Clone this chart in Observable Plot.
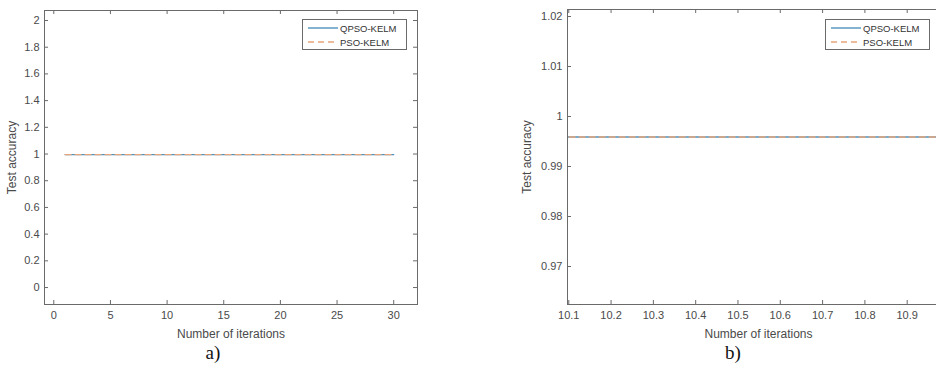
<!DOCTYPE html>
<html><head><meta charset="utf-8">
<script src="https://cdn.jsdelivr.net/npm/d3@7"></script>
<script src="https://cdn.jsdelivr.net/npm/@observablehq/plot@0.6"></script>
<style>
body{margin:0;background:#fff;}
#root{position:relative;width:936px;height:370px;overflow:hidden;background:#fff;font-family:"Liberation Sans",Arial,sans-serif;}
.panel{position:absolute;top:0;}
.caption{position:absolute;top:343px;font-family:"Liberation Serif","Times New Roman",serif;font-size:19px;color:#111;transform:translateX(-50%);line-height:19px;}
.legend{position:absolute;top:19px;border:1px solid #6a6a6a;background:#fff;width:105px;height:31px;box-sizing:border-box;font-size:9.5px;color:#333;padding-top:1px;}
.legend .row{display:flex;align-items:center;height:14px;}
.legend svg{margin-left:5px;margin-right:2px;}
</style>
</head><body>
<div id="root"></div>
<script>
// ---- data ----
const iterations = [1,2,3,4,5,6,7,8,9,10,11,12,13,14,15,16,17,18,19,20,21,22,23,24,25,26,27,28,29,30];
const qpsoAccuracy = [0.9959,0.9959,0.9959,0.9959,0.9959,0.9959,0.9959,0.9959,0.9959,0.9959,0.9959,0.9959,0.9959,0.9959,0.9959,0.9959,0.9959,0.9959,0.9959,0.9959,0.9959,0.9959,0.9959,0.9959,0.9959,0.9959,0.9959,0.9959,0.9959,0.9959];
const psoAccuracy = [0.9959,0.9959,0.9959,0.9959,0.9959,0.9959,0.9959,0.9959,0.9959,0.9959,0.9959,0.9959,0.9959,0.9959,0.9959,0.9959,0.9959,0.9959,0.9959,0.9959,0.9959,0.9959,0.9959,0.9959,0.9959,0.9959,0.9959,0.9959,0.9959,0.9959];
const seriesNames = ["QPSO-KELM", "PSO-KELM"];
const xTicksA = [0,5,10,15,20,25,30];
const yTicksA = [0,0.2,0.4,0.6,0.8,1,1.2,1.4,1.6,1.8,2];
const xTicksB = [10.1,10.2,10.3,10.4,10.5,10.6,10.7,10.8,10.9];
const yTicksB = [0.97,0.98,0.99,1,1.01,1.02];
const captions = ["a)", "b)"];
const xLabel = "Number of iterations";
const yLabel = "Test accuracy";

// ---- styles ----
const BLUE = "#4f93bd";
const ORANGE = "#e6a57c";
const AXIS = "#6a6a6a";
const TEXT = "#4a4a4a";

const qRows = iterations.map((x, i) => ({x, y: qpsoAccuracy[i]}));
const pRows = iterations.map((x, i) => ({x, y: psoAccuracy[i]}));
const fmt = d => String(Math.round(d * 10000) / 10000);

function panel(o) {
  const innerH = o.height - o.mt - o.mb;
  const innerW = o.width - o.ml - o.mr;
  return Plot.plot({
    width: o.width, height: o.height,
    marginLeft: o.ml, marginRight: o.mr, marginTop: o.mt, marginBottom: o.mb,
    x: {domain: o.xDomain},
    y: {domain: o.yDomain},
    style: {fontFamily: '"Liberation Sans", Arial, sans-serif', fontSize: "11px", color: TEXT, background: "transparent", overflow: "visible"},
    marks: [
      Plot.line(qRows, {x: "x", y: "y", stroke: BLUE, strokeWidth: 1.4, clip: true}),
      Plot.line(pRows, {x: "x", y: "y", stroke: ORANGE, strokeWidth: 1.4, strokeDasharray: "6,4", clip: true}),
      Plot.ruleX(o.xTicks, {insetTop: innerH - 4, stroke: AXIS}),
      Plot.ruleX(o.xTicks, {insetBottom: innerH - 4, stroke: AXIS}),
      Plot.ruleY(o.yTicks, {insetRight: innerW - 4, stroke: AXIS}),
      Plot.ruleY(o.yTicks, {insetLeft: innerW - 4, stroke: AXIS}),
      Plot.axisX(o.xTicks, {tickSize: 0, tickPadding: 7, tickFormat: fmt, label: null, fontSize: 11, fill: TEXT}),
      Plot.axisX({tickSize: 0, ticks: [], label: xLabel, labelAnchor: "center", labelOffset: 33, labelArrow: "none", fontSize: 12, fill: TEXT}),
      Plot.axisY(o.yTicks, {tickSize: 0, tickPadding: 5, tickFormat: fmt, label: null, fontSize: 11, fill: TEXT}),
      Plot.axisY({tickSize: 0, ticks: [], label: yLabel, labelAnchor: "center", labelOffset: o.yLabelOffset, labelArrow: "none", fontSize: 12, fill: TEXT}),
      Plot.frame({stroke: AXIS})
    ]
  });
}

const root = document.getElementById("root");

const a = panel({width: 440, height: 345, ml: 44, mr: 23, mt: 10, mb: 41,
  xDomain: [-0.82, 32.1], yDomain: [-0.127, 2.075], xTicks: xTicksA, yTicks: yTicksA, yLabelOffset: 37});
a.classList.add("panel"); a.style.left = "0px";
root.appendChild(a);

const b = panel({width: 470, height: 345, ml: 67, mr: 21, mt: 9, mb: 41,
  xDomain: [10.097, 11.0], yDomain: [0.9624, 1.0214], xTicks: xTicksB, yTicks: yTicksB, yLabelOffset: 45});
b.classList.add("panel"); b.style.left = "500px";
root.appendChild(b);

function legend(left) {
  const div = document.createElement("div");
  div.className = "legend";
  div.style.left = left + "px";
  const styles = [{stroke: BLUE, dash: ""}, {stroke: ORANGE, dash: "6,4"}];
  seriesNames.forEach((name, i) => {
    const row = document.createElement("div");
    row.className = "row";
    row.innerHTML = `<svg width="30" height="6"><line x1="0" x2="30" y1="3" y2="3" stroke="${styles[i].stroke}" stroke-width="1.4" stroke-dasharray="${styles[i].dash}"/></svg><span>${name}</span>`;
    div.appendChild(row);
  });
  root.appendChild(div);
}
legend(302);
legend(825);

[[213, captions[0]], [733, captions[1]]].forEach(([x, t]) => {
  const c = document.createElement("div");
  c.className = "caption";
  c.style.left = x + "px";
  c.textContent = t;
  root.appendChild(c);
});
</script>
</body></html>
